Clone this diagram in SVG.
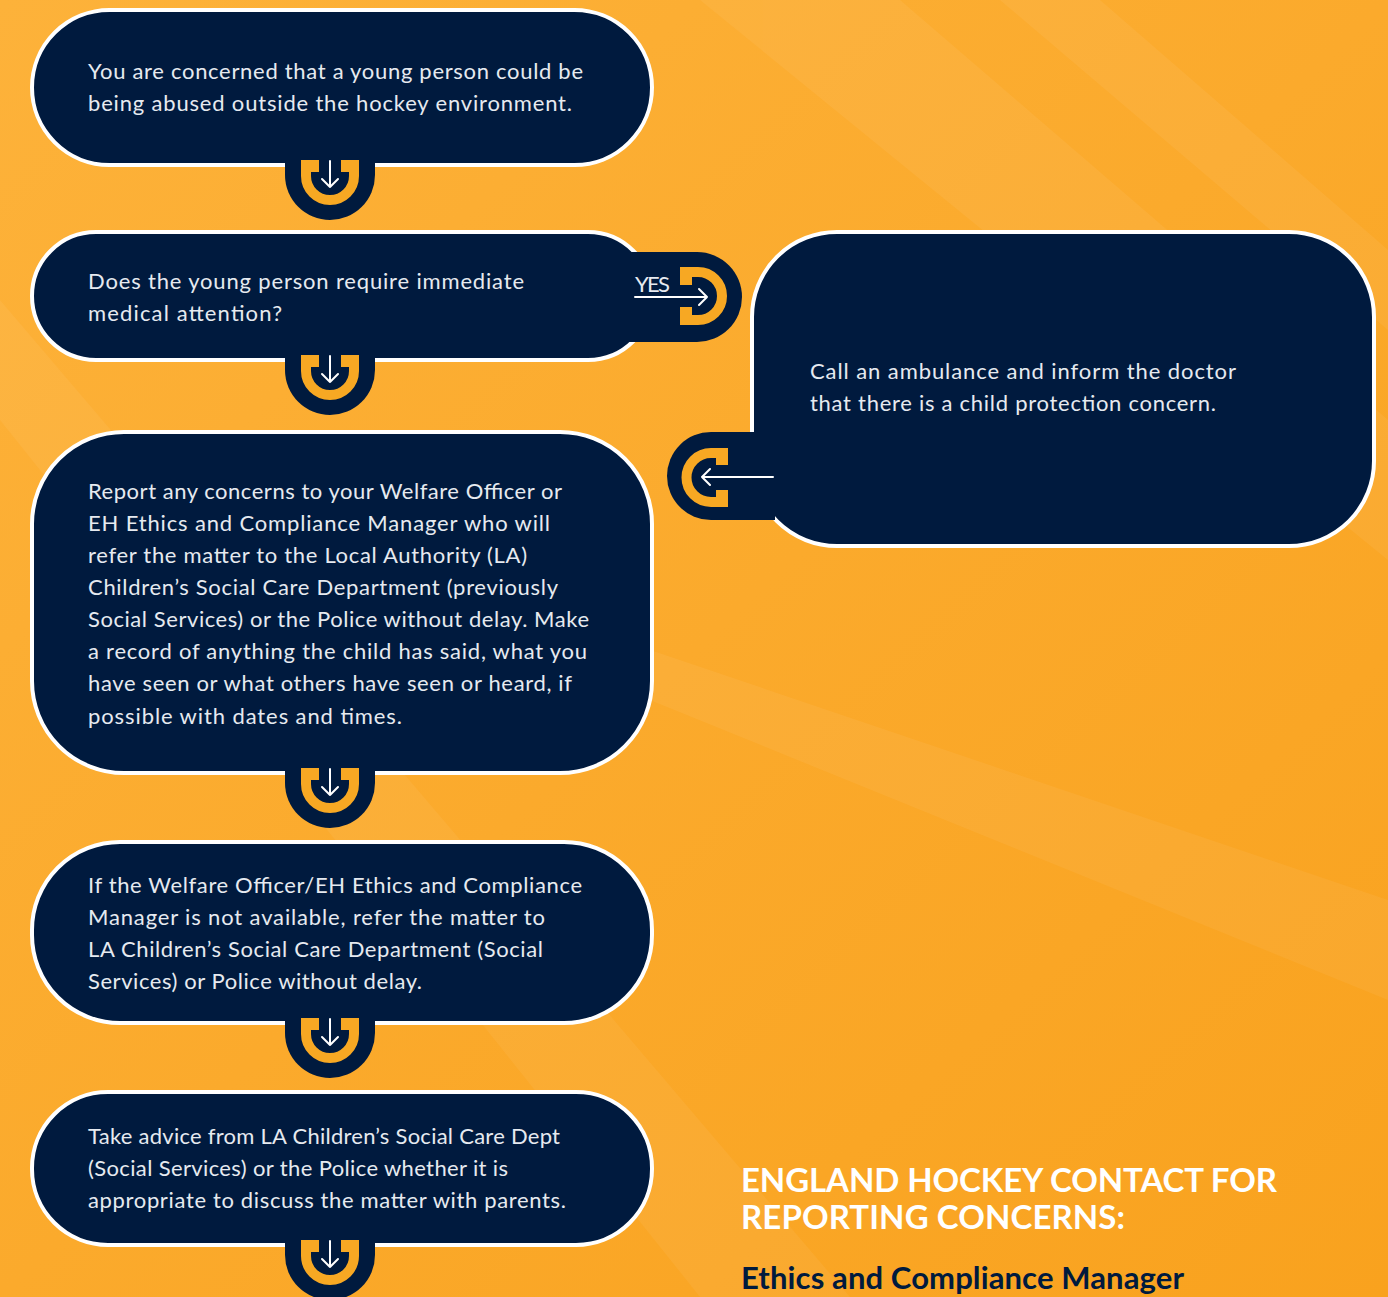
<svg xmlns="http://www.w3.org/2000/svg" xmlns:xlink="http://www.w3.org/1999/xlink" width="1388" height="1297" viewBox="0 0 1388 1297">
<style>
.box{fill:#001A3E;stroke:#FFFFFF;stroke-width:4}
.navy{fill:#001A3E}
.or{fill:#F7A823}
.ors{fill:none;stroke:#F7A823;stroke-width:10}
.arw{fill:none;stroke:#FFFFFF;stroke-width:2;stroke-linecap:round;stroke-linejoin:round}
.t{font-family:Lato,"Open Sans","Noto Sans",sans-serif;font-size:22px;fill:#E6EAF0}
.h{font-family:Lato,"Open Sans","Noto Sans",sans-serif;font-weight:700;font-size:33px;fill:#FFFFFF}
.h2{font-family:Lato,"Open Sans","Noto Sans",sans-serif;font-weight:700;font-size:31px;fill:#001A3E}
</style>
<defs>
<linearGradient id="bg" x1="0" y1="0" x2="1" y2="1">
<stop offset="0" stop-color="#FDB23A"/>
<stop offset="0.5" stop-color="#FBAA2C"/>
<stop offset="1" stop-color="#F9A21E"/>
</linearGradient>
<g id="down">
<path class="navy" d="M285,150 V175 A45,45 0 0 0 375,175 V150 Z"/>
<path class="ors" d="M306,160 V176 A24,24 0 0 0 354,176 V160"/>
<rect class="or" x="301" y="160" width="18" height="12"/>
<rect class="or" x="341" y="160" width="18" height="12"/>
<path class="arw" d="M330,161 V187 M322,179 L330,187 L338,179"/>
</g>
</defs>
<rect width="1388" height="1297" fill="url(#bg)"/>
<g opacity="0.05" fill="#FFFFFF">
<polygon points="700,0 900,0 1388,420 1388,560"/>
<polygon points="1000,0 1100,0 1388,250 1388,330"/>
<polygon points="0,300 0,420 700,1297 850,1297"/>
<polygon points="650,650 1388,900 1388,1000 650,700"/>
</g>

<g id="node1">
<rect class="box" x="32" y="10" width="620" height="155" rx="77.5"/>
<text class="t" x="88" y="79" textLength="495">You are concerned that a young person could be</text>
<text class="t" x="88" y="111" textLength="484">being abused outside the hockey environment.</text>
</g>
<g id="node2">
<rect class="box" x="32" y="232" width="620" height="128" rx="64"/>
<text class="t" x="88" y="289" textLength="436">Does the young person require immediate</text>
<text class="t" x="88" y="321" textLength="194">medical attention?</text>
</g>
<g id="node3">
<rect class="box" x="32" y="432" width="620" height="341" rx="92"/>
<text class="t" x="88" y="499" textLength="474">Report any concerns to your Welfare Officer or</text>
<text class="t" x="88" y="531" textLength="462">EH Ethics and Compliance Manager who will</text>
<text class="t" x="88" y="563" textLength="439">refer the matter to the Local Authority (LA)</text>
<text class="t" x="88" y="595" textLength="470">Children’s Social Care Department (previously</text>
<text class="t" x="88" y="627" textLength="501">Social Services) or the Police without delay. Make</text>
<text class="t" x="88" y="659" textLength="499">a record of anything the child has said, what you</text>
<text class="t" x="88" y="691" textLength="484">have seen or what others have seen or heard, if</text>
<text class="t" x="88" y="724" textLength="314">possible with dates and times.</text>
</g>
<g id="node4">
<rect class="box" x="32" y="842" width="620" height="181" rx="88"/>
<text class="t" x="88" y="893" textLength="494">If the Welfare Officer/EH Ethics and Compliance</text>
<text class="t" x="88" y="925" textLength="457">Manager is not available, refer the matter to</text>
<text class="t" x="88" y="957" textLength="455">LA Children’s Social Care Department (Social</text>
<text class="t" x="88" y="989" textLength="334">Services) or Police without delay.</text>
</g>
<g id="node5">
<rect class="box" x="32" y="1092" width="620" height="153" rx="76"/>
<text class="t" x="88" y="1144" textLength="472">Take advice from LA Children’s Social Care Dept</text>
<text class="t" x="88" y="1176" textLength="420">(Social Services) or the Police whether it is</text>
<text class="t" x="88" y="1208" textLength="478">appropriate to discuss the matter with parents.</text>
</g>
<g id="node6">
<rect class="box" x="752" y="232" width="622" height="314" rx="85"/>
<text class="t" x="810" y="379" textLength="426">Call an ambulance and inform the doctor</text>
<text class="t" x="810" y="411" textLength="406">that there is a child protection concern.</text>
</g>

<g id="connectors">
<use xlink:href="#down" href="#down"/>
<use xlink:href="#down" href="#down" transform="translate(0,195)"/>
<use xlink:href="#down" href="#down" transform="translate(0,608)"/>
<use xlink:href="#down" href="#down" transform="translate(0,858)"/>
<use xlink:href="#down" href="#down" transform="translate(0,1080)"/>
<g id="yes-connector">
<path class="navy" d="M628,252 H697 A45,45 0 0 1 697,342 H628 Z"/>
<path class="ors" d="M680,272 H698 A24,24 0 0 1 698,320 H680"/>
<rect class="or" x="680" y="267" width="12" height="18"/>
<rect class="or" x="680" y="307" width="12" height="18"/>
<path class="arw" d="M635,297 H707 M699,289 L707,297 L699,305"/>
<text class="t" x="635" y="292" font-size="21" textLength="35">YES</text>
</g>
<g id="back-connector">
<path class="navy" d="M775,432 H711 A44,44 0 0 0 711,520 H775 Z"/>
<path class="ors" d="M728,453 H711 A24,24 0 0 0 711,502 H728"/>
<rect class="or" x="716" y="448" width="12" height="17"/>
<rect class="or" x="716" y="490" width="12" height="17"/>
<path class="arw" d="M773,477 H702 M710,469 L702,477 L710,485"/>
</g>
</g>

<g id="contact">
<text class="h" x="741" y="1192" textLength="536">ENGLAND HOCKEY CONTACT FOR</text>
<text class="h" x="741" y="1229" textLength="384">REPORTING CONCERNS:</text>
<text class="h2" x="741" y="1289" textLength="443">Ethics and Compliance Manager</text>
</g>
</svg>
